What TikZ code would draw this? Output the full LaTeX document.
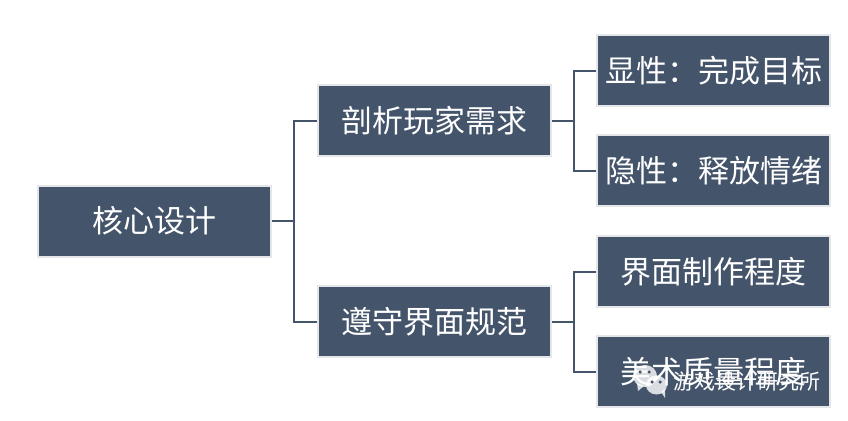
\documentclass[tikz,border=0pt]{standalone}
\usepackage{fontspec}
\setmainfont{Noto Sans CJK SC}
\definecolor{boxfill}{HTML}{44546A}
\definecolor{boxline}{HTML}{E4E6EA}
\tikzset{
  topic/.style={draw=boxline,line width=2pt,fill=boxfill,text=white,minimum width=233pt,minimum height=71pt,inner sep=0pt,font=\fontsize{31}{34}\selectfont},
  link/.style={draw=boxfill,line width=2pt},
  bubble/.style={fill=white,fill opacity=0.8,draw=none},
  eye/.style={fill=boxfill,draw=none,circle,minimum size=3.5pt,inner sep=0pt},
}
\begin{document}
\begin{tikzpicture}[x=1pt,y=-1pt]
  \useasboundingbox (0,0) rectangle (848,420);
  \node[topic] (root) at (154.5,221) {核心设计};
  \node[topic] (need) at (434,120.5) {剖析玩家需求};
  \node[topic] (rule) at (434,321.5) {遵守界面规范};
  \node[topic] (goal) at (713.5,70.5) {显性：完成目标};
  \node[topic] (mood) at (713.5,170.5) {隐性：释放情绪};
  \node[topic] (make) at (713.5,271.5) {界面制作程度};
  \node[topic] (art) at (713.5,371.5) {美术质量程度};
  % forks
  \coordinate (rootfork) at (294,221);
  \coordinate (needfork) at (573.5,120.5);
  \coordinate (rulefork) at (573.5,321.5);
  \draw[link] (root.east) -- (rootfork);
  \draw[link] (need.west) -| (rootfork) |- (rule.west);
  \draw[link] (need.east) -- (needfork);
  \draw[link] (goal.west) -| (needfork) |- (mood.west);
  \draw[link] (rule.east) -- (rulefork);
  \draw[link] (make.west) -| (rulefork) |- (art.west);
  % mark in the corner
  \fill[bubble] (645,376) ellipse (12pt and 11pt);
  \fill[bubble] (637,383) -- (638,391) -- (644,386) -- cycle;
  \fill[bubble] (656.5,385) ellipse (10.5pt and 9.5pt);
  \fill[bubble] (661,392) -- (665,398) -- (665,389) -- cycle;
  \node[eye] (eyea) at (640,372) {};
  \node[eye] (eyeb) at (649,372) {};
  \node[eye] (eyec) at (652,382) {};
  \node[eye] (eyed) at (660,382) {};
  \node[text=white,font=\fontsize{21}{24}\selectfont,inner sep=0pt] (mark) at (746.5,381.5) {游戏设计研究所};
\end{tikzpicture}
\end{document}
